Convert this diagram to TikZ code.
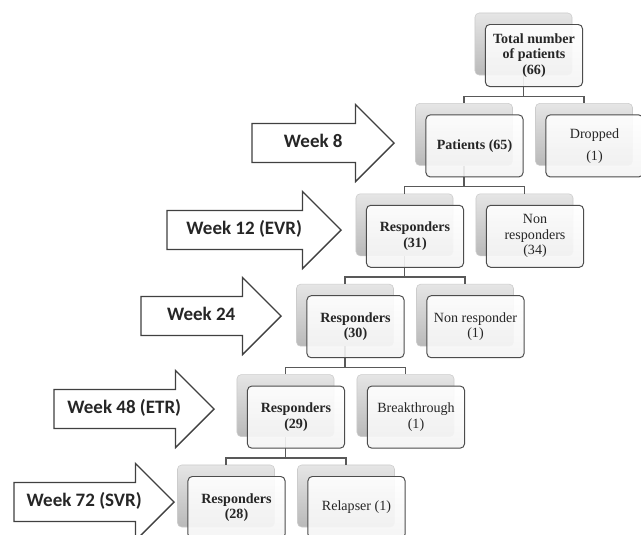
\documentclass[tikz,border=0pt]{standalone}
\usepackage{fontspec}
\setmainfont{Liberation Serif}
\newfontfamily\weekfont{Carlito}
\usetikzlibrary{shapes.arrows}

\tikzset{%
        backbox/.style={
                rectangle, rounded corners=3pt,
                draw=gray!40, top color=gray!20, bottom color=gray!55,
                minimum width=2.425cm, minimum height=1.55cm, inner sep=0pt
            },
        frontbox/.style={
                rectangle, rounded corners=3pt,
                draw=gray!60!black, line width=0.7pt,
                top color=white, bottom color=gray!8,
                fill opacity=0.9, text opacity=1, text=black!85,
                minimum width=2.425cm, minimum height=1.55cm, inner sep=1pt,
                align=center, font=\fontsize{10}{11}\selectfont
            },
        mainbox/.style={
                frontbox, font=\fontsize{10}{11}\selectfont\bfseries
            },
        conn/.style={
                draw=gray!70!black, line width=1pt
            },
        week/.style={
                single arrow, draw=black!75, line width=1pt, fill=white,
                single arrow head extend=0.475cm,
                text height=0.34cm, text depth=0.1cm,
                inner xsep=2pt, inner ysep=0.249cm,
                font=\weekfont\fontsize{13.5}{14}\selectfont\bfseries,
                text=black!85, anchor=tip
            }
    }

\begin{document}
\begin{tikzpicture}[x=0.025cm, y=-0.025cm]

    \fill[white] (0,0) rectangle (641,535);
    \useasboundingbox (0,0) rectangle (641,535);

    % back layers:
        \node [backbox] (tot-bk)  at (523.5,44)    {};
        \node [backbox] (pat-bk)  at (464,134.4)   {};
        \node [backbox] (drop-bk) at (584,134.4)   {};
        \node [backbox] (r31-bk)  at (404.5,224.8) {};
        \node [backbox] (nr34-bk) at (524.5,224.8) {};
        \node [backbox] (r30-bk)  at (345,315.2)   {};
        \node [backbox] (nr1-bk)  at (465,315.2)   {};
        \node [backbox] (r29-bk)  at (285.5,405.6) {};
        \node [backbox] (brk-bk)  at (405.5,405.6) {};
        \node [backbox] (r28-bk)  at (226,496)     {};
        \node [backbox] (rel-bk)  at (346,496)     {};

    % tree connectors:
        \draw[conn] (tot-bk.south) -- ++(0,21) -| (pat-bk.north);
        \draw[conn] (tot-bk.south) -- ++(0,21) -| (drop-bk.north);
        \draw[conn] (pat-bk.south) -- ++(0,21) -| (r31-bk.north);
        \draw[conn] (pat-bk.south) -- ++(0,21) -| (nr34-bk.north);
        \draw[conn] (r31-bk.south) -- ++(0,21) -| (r30-bk.north);
        \draw[conn] (r31-bk.south) -- ++(0,21) -| (nr1-bk.north);
        \draw[conn] (r30-bk.south) -- ++(0,21) -| (r29-bk.north);
        \draw[conn] (r30-bk.south) -- ++(0,21) -| (brk-bk.north);
        \draw[conn] (r29-bk.south) -- ++(0,21) -| (r28-bk.north);
        \draw[conn] (r29-bk.south) -- ++(0,21) -| (rel-bk.north);

    % front boxes:
        \node [mainbox]  (tot)  at (534,55.5)    {Total number\\of patients\\(66)};
        \node [mainbox]  (pat)  at (474.5,145.9) {Patients (65)};
        \node [frontbox] (drop) at (594.5,145.9) {Dropped\\[5pt](1)};
        \node [mainbox]  (r31)  at (415,236.3)   {Responders\\(31)};
        \node [frontbox] (nr34) at (535,236.3)   {Non\\responders\\(34)};
        \node [mainbox]  (r30)  at (355.5,326.7) {Responders\\(30)};
        \node [frontbox] (nr1)  at (475.5,326.7) {Non responder\\(1)};
        \node [mainbox]  (r29)  at (296,417.1)   {Responders\\(29)};
        \node [frontbox] (brk)  at (416,417.1)   {Breakthrough\\(1)};
        \node [mainbox]  (r28)  at (236.5,507.5) {Responders\\(28)};
        \node [frontbox] (rel)  at (356.5,507.5) {Relapser (1)};

    % time points:
        \node [week, minimum height=3.55cm] (w8)  at (395,143) {Week 8};
        \node [week, minimum height=4.35cm] (w12) at (342,230) {Week 12 (EVR)};
        \node [week, minimum height=3.5cm]  (w24) at (282,316) {Week 24};
        \node [week, minimum height=4cm]    (w48) at (215,409) {Week 48 (ETR)};
        \node [week, minimum height=4cm]    (w72) at (175,502) {Week 72 (SVR)};
\end{tikzpicture}
\end{document}
